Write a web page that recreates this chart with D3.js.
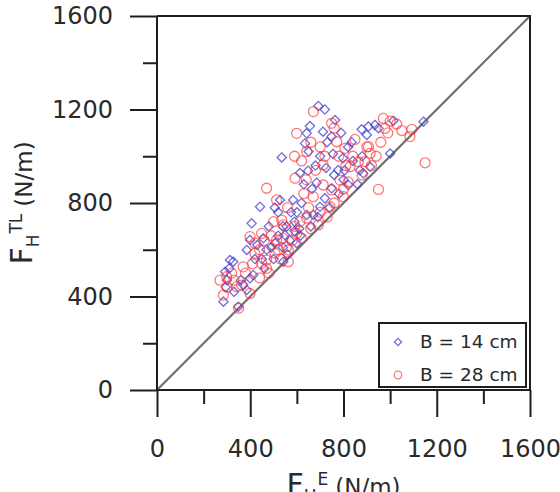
<!DOCTYPE html>
<html><head><meta charset="utf-8">
<script src="https://cdn.jsdelivr.net/npm/d3@7"></script>
<style>
html,body{margin:0;padding:0;background:#fff;}
svg{display:block;font-family:"DejaVu Sans",Verdana,sans-serif;}
</style></head>
<body>
<svg id="chart" width="560" height="492"></svg>
<script>
const majorTicks = [0, 400, 800, 1200, 1600];
const minorTicks = [200, 600, 1000, 1400];
const seriesNames = ["B = 14 cm", "B = 28 cm"];

const b14X = [285,292,300,295,313,327,349,385,399,385,406,399,413,442,456,506,520,528,535,542,549,556,584,599,613,635,642,642,648,656,671,685,692,699,712,749,749,764,777,798,821,878,885,900,907,914,935,1000,1014,1143,330,360,420,430,470,480,500,520,560,570,590,610,620,630,660,680,700,720,730,740,760,780,800,820,840,860,880,950,720,600,450,650,790,310,370,460,490,540,575,615,665,690,725,755,805,835,870,540,590,505];
const b14Y = [378,506,470,440,556,549,356,428,478,599,713,642,492,784,649,628,660,813,995,549,663,699,813,628,928,1055,1098,749,938,1129,749,887,1215,784,1105,1084,863,1155,941,992,877,1115,927,1091,1127,955,1134,1012,1152,1148,420,470,560,620,600,700,560,760,580,640,720,690,800,880,700,960,1000,820,1060,780,920,840,900,1040,980,880,1000,1120,1200,760,560,1020,1100,520,450,520,610,700,760,660,860,740,950,1010,940,1060,940,610,680,780];

const b28X = [270,285,299,300,342,350,363,370,399,399,420,420,449,449,470,470,506,513,513,535,542,556,563,563,592,599,599,613,642,642,670,671,692,713,713,742,749,749,771,785,799,806,828,849,864,892,907,914,950,971,978,1028,1085,1093,1150,320,330,380,410,440,460,480,490,500,530,540,560,580,590,620,630,650,660,680,700,700,720,730,760,780,800,820,840,880,900,920,940,960,990,1000,660,620,520,470,760,810,590,1050,440,640];
const b28Y = [470,406,485,440,442,350,449,527,413,656,585,628,670,542,556,863,585,642,813,727,706,613,599,549,906,1098,670,720,1020,735,827,1191,706,963,877,784,1141,856,1062,898,827,1034,955,1072,977,977,1041,1012,858,1162,1119,1138,1084,1115,972,500,470,500,540,600,640,500,660,720,560,650,780,640,700,650,840,780,690,940,760,1040,1000,740,800,1000,860,890,1000,920,1040,960,1000,1060,1100,1150,1060,980,600,520,1120,960,1000,1110,480,900];

const colors = {b14: "#3c3cd2", b28: "#ff3030"};
const axisColor = "#1e1e1e";
const textColor = "#2a2a2a";

const svg = d3.select("#chart");
const x = d3.scaleLinear().domain([0, 1600]).range([157, 530]);
const y = d3.scaleLinear().domain([0, 1600]).range([390, 16]);

// diagonal 1:1 line
svg.append("line")
  .attr("x1", x(0)).attr("y1", y(0)).attr("x2", x(1600)).attr("y2", y(1600))
  .attr("stroke", "#6e6e6e").attr("stroke-width", 2.2);

const b14 = b14X.map((v, i) => [v, b14Y[i]]);
const b28 = b28X.map((v, i) => [v, b28Y[i]]);
const diamond = s => `M0,${-s}L${s},0L0,${s}L${-s},0Z`;

svg.append("g").selectAll("path").data(b14).join("path")
  .attr("d", diamond(4.6))
  .attr("transform", d => `translate(${x(d[0])},${y(d[1])})`)
  .attr("fill", "none").attr("stroke", colors.b14).attr("stroke-opacity", 0.75).attr("stroke-width", 1.3);

svg.append("g").selectAll("circle").data(b28).join("circle")
  .attr("cx", d => x(d[0])).attr("cy", d => y(d[1])).attr("r", 5)
  .attr("fill", "none").attr("stroke", colors.b28).attr("stroke-opacity", 0.65).attr("stroke-width", 1.3);

// frame
svg.append("path")
  .attr("d", `M${x(0)},${y(1600)}H${x(1600)}V${y(0)}`)
  .attr("fill", "none").attr("stroke", axisColor).attr("stroke-width", 2);

function styleAxis(g) {
  g.select(".domain").remove();
  g.selectAll("line").attr("stroke", axisColor).attr("stroke-width", 2);
  g.selectAll("text").attr("fill", textColor).style("font-size", "24px").style("font-family", '"DejaVu Sans",Verdana,sans-serif');
}
svg.append("g").attr("transform", `translate(0,${y(0)})`)
  .call(d3.axisBottom(x).tickValues(majorTicks).tickSize(27).tickPadding(23).tickFormat(d3.format("d")))
  .call(styleAxis);
svg.append("g").attr("transform", `translate(0,${y(0)})`)
  .call(d3.axisBottom(x).tickValues(minorTicks).tickSize(14).tickFormat(""))
  .call(styleAxis);
svg.append("g").attr("transform", `translate(${x(0)},0)`)
  .call(d3.axisLeft(y).tickValues(majorTicks).tickSize(27).tickPadding(17).tickFormat(d3.format("d")))
  .call(styleAxis);
svg.append("g").attr("transform", `translate(${x(0)},0)`)
  .call(d3.axisLeft(y).tickValues(minorTicks).tickSize(14).tickFormat(""))
  .call(styleAxis);
svg.append("line").attr("x1", x(0)).attr("x2", x(1600)).attr("y1", y(0)).attr("y2", y(0)).attr("stroke", axisColor).attr("stroke-width", 2);
svg.append("line").attr("x1", x(0)).attr("x2", x(0)).attr("y1", y(0)).attr("y2", y(1600)).attr("stroke", axisColor).attr("stroke-width", 2);

// axis titles built from explicitly placed parts
function title(g, sup) {
  const parts = [
    {t: "F", size: 30, dy: 0, gapAfter: 0},
    {t: "H", size: 17, dy: 7, gapAfter: 1},
    {t: sup, size: 17, dy: -10, gapAfter: 7},
    {t: "(N/m)", size: 23, dy: 0, gapAfter: 0}
  ];
  let cx = 0;
  parts.forEach(p => {
    const el = g.append("text").attr("x", cx).attr("y", p.dy)
      .attr("fill", textColor).style("font-size", p.size + "px").text(p.t);
    cx += el.node().getComputedTextLength() + p.gapAfter;
  });
  g.selectAll("text").attr("x", function() { return +d3.select(this).attr("x") - cx / 2; });
}
title(svg.append("g").attr("transform", `translate(${(x(0) + x(1600)) / 2},495)`), "E");
title(svg.append("g").attr("transform", `translate(32,${(y(0) + y(1600)) / 2}) rotate(-90)`), "TL");

// legend
const lg = svg.append("g");
lg.append("rect").attr("x", 379).attr("y", 323).attr("width", 147).attr("height", 64)
  .attr("fill", "#fff").attr("stroke", axisColor).attr("stroke-width", 2);
lg.append("path").attr("d", diamond(3.6)).attr("transform", "translate(398,342)")
  .attr("fill", "none").attr("stroke", colors.b14).attr("stroke-opacity", 0.75).attr("stroke-width", 1.3);
lg.append("circle").attr("cx", 398).attr("cy", 375).attr("r", 3.8)
  .attr("fill", "none").attr("stroke", colors.b28).attr("stroke-opacity", 0.65).attr("stroke-width", 1.3);
lg.selectAll("text.leg").data(seriesNames).join("text").attr("class", "leg")
  .attr("x", 420).attr("y", (d, i) => 348 + i * 33)
  .attr("fill", textColor).style("font-size", "18.5px").text(d => d);
</script>
</body></html>
